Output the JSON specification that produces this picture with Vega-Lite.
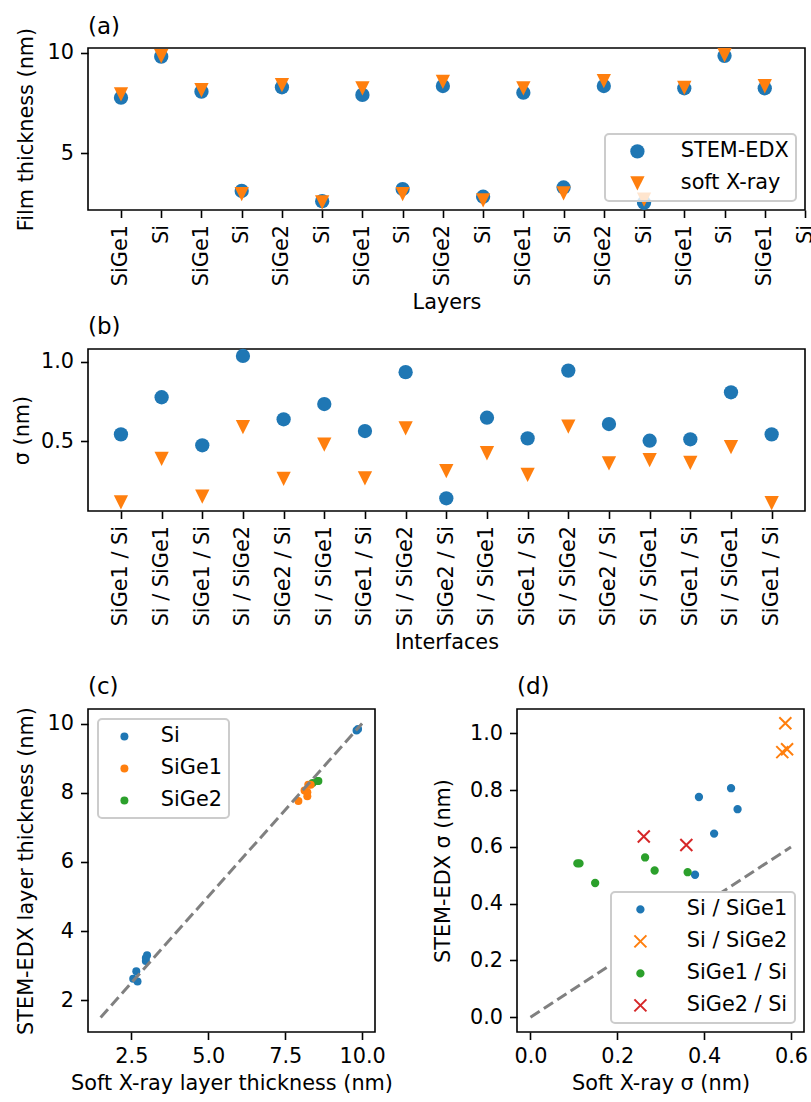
{
  "$schema": "https://vega.github.io/schema/vega-lite/v6.json",
  "background": "white",
  "padding": {"left": 10, "top": 15, "right": 5, "bottom": 5},
  "config": {
    "font": "DejaVu Sans",
    "view": {"stroke": "black", "strokeWidth": 1.6},
    "axis": {"grid": false, "domain": false, "tickColor": "black", "tickWidth": 1.6, "tickSize": 7.5, "labelPadding": 7, "labelFont": "DejaVu Sans", "labelFontSize": 20.8, "labelColor": "black", "titleFont": "DejaVu Sans", "titleFontSize": 20.8, "titleFontWeight": "normal", "titleColor": "black", "titlePadding": 8, "labelFlush": false, "labelOverlap": false},
    "legend": {"labelFont": "DejaVu Sans", "labelFontSize": 20.8, "labelColor": "black", "fillColor": "rgba(255,255,255,0.8)", "strokeColor": "#cccccc", "strokeWidth": 2, "cornerRadius": 4, "padding": 7, "rowPadding": 10, "labelLimit": 300}
  },
  "datasets": {
    "layers": [
      {"i": 0, "material": "SiGe1", "STEM-EDX": 7.76, "soft X-ray": 7.93},
      {"i": 1, "material": "Si", "STEM-EDX": 9.80, "soft X-ray": 9.82},
      {"i": 2, "material": "SiGe1", "STEM-EDX": 8.06, "soft X-ray": 8.13},
      {"i": 3, "material": "Si", "STEM-EDX": 3.13, "soft X-ray": 2.97},
      {"i": 4, "material": "SiGe2", "STEM-EDX": 8.28, "soft X-ray": 8.39},
      {"i": 5, "material": "Si", "STEM-EDX": 2.62, "soft X-ray": 2.56},
      {"i": 6, "material": "SiGe1", "STEM-EDX": 7.90, "soft X-ray": 8.22},
      {"i": 7, "material": "Si", "STEM-EDX": 3.22, "soft X-ray": 2.97},
      {"i": 8, "material": "SiGe2", "STEM-EDX": 8.34, "soft X-ray": 8.55},
      {"i": 9, "material": "Si", "STEM-EDX": 2.84, "soft X-ray": 2.66},
      {"i": 10, "material": "SiGe1", "STEM-EDX": 8.01, "soft X-ray": 8.22},
      {"i": 11, "material": "Si", "STEM-EDX": 3.30, "soft X-ray": 3.01},
      {"i": 12, "material": "SiGe2", "STEM-EDX": 8.34, "soft X-ray": 8.58},
      {"i": 13, "material": "Si", "STEM-EDX": 2.54, "soft X-ray": 2.70},
      {"i": 14, "material": "SiGe1", "STEM-EDX": 8.23, "soft X-ray": 8.25},
      {"i": 15, "material": "Si", "STEM-EDX": 9.84, "soft X-ray": 9.87},
      {"i": 16, "material": "SiGe1", "STEM-EDX": 8.23, "soft X-ray": 8.33}
    ],
    "ifaces": [
      {"j": 0, "iface": "SiGe1 / Si", "STEM-EDX": 0.542, "soft X-ray": 0.113},
      {"j": 1, "iface": "Si / SiGe1", "STEM-EDX": 0.776, "soft X-ray": 0.388},
      {"j": 2, "iface": "SiGe1 / Si", "STEM-EDX": 0.473, "soft X-ray": 0.149},
      {"j": 3, "iface": "Si / SiGe2", "STEM-EDX": 1.036, "soft X-ray": 0.587},
      {"j": 4, "iface": "SiGe2 / Si", "STEM-EDX": 0.637, "soft X-ray": 0.261},
      {"j": 5, "iface": "Si / SiGe1", "STEM-EDX": 0.733, "soft X-ray": 0.477},
      {"j": 6, "iface": "SiGe1 / Si", "STEM-EDX": 0.563, "soft X-ray": 0.264},
      {"j": 7, "iface": "Si / SiGe2", "STEM-EDX": 0.934, "soft X-ray": 0.580},
      {"j": 8, "iface": "SiGe2 / Si", "STEM-EDX": 0.139, "soft X-ray": 0.310},
      {"j": 9, "iface": "Si / SiGe1", "STEM-EDX": 0.647, "soft X-ray": 0.423},
      {"j": 10, "iface": "SiGe1 / Si", "STEM-EDX": 0.517, "soft X-ray": 0.286},
      {"j": 11, "iface": "Si / SiGe2", "STEM-EDX": 0.944, "soft X-ray": 0.591},
      {"j": 12, "iface": "SiGe2 / Si", "STEM-EDX": 0.607, "soft X-ray": 0.359},
      {"j": 13, "iface": "Si / SiGe1", "STEM-EDX": 0.502, "soft X-ray": 0.379},
      {"j": 14, "iface": "SiGe1 / Si", "STEM-EDX": 0.511, "soft X-ray": 0.362},
      {"j": 15, "iface": "Si / SiGe1", "STEM-EDX": 0.807, "soft X-ray": 0.462},
      {"j": 16, "iface": "SiGe1 / Si", "STEM-EDX": 0.542, "soft X-ray": 0.108}
    ],
    "diagC": [{"soft X-ray": 1.5, "STEM-EDX": 1.5}, {"soft X-ray": 10, "STEM-EDX": 10}],
    "diagD": [{"soft X-ray": 0, "STEM-EDX": 0}, {"soft X-ray": 0.6, "STEM-EDX": 0.6}]
  },
  "columns": 1,
  "spacing": 21,
  "align": "none",
  "resolve": {
    "scale": {"color": "independent", "shape": "independent", "fill": "independent", "stroke": "independent", "x": "independent", "y": "independent"},
    "legend": {"color": "independent", "shape": "independent", "fill": "independent", "stroke": "independent"}
  },
  "concat": [
    {
      "bounds": "flush",
      "spacing": 139,
      "resolve": {
        "scale": {"color": "independent", "shape": "independent", "x": "independent", "y": "independent"},
        "legend": {"color": "independent", "shape": "independent"}
      },
      "vconcat": [
        {
          "title": {"text": "(a)", "fontSize": 23, "fontWeight": "normal", "font": "DejaVu Sans", "color": "black", "anchor": "start", "frame": "group", "baseline": "alphabetic", "offset": -7.5, "dy": 22},
          "width": 717,
          "height": 162,
          "data": {"name": "layers"},
          "transform": [{"fold": ["STEM-EDX", "soft X-ray"], "as": ["method", "value"]}],
          "mark": {"type": "point", "filled": true, "opacity": 1, "size": 204},
          "encoding": {
            "x": {"field": "i", "type": "quantitative", "scale": {"domain": [-0.82, 17], "nice": false, "zero": false},
              "axis": {"title": "Layers", "values": [0,1,2,3,4,5,6,7,8,9,10,11,12,13,14,15,16,17], "labelAngle": -90, "titlePadding": 7,
                "labelExpr": "['SiGe1','Si','SiGe1','Si','SiGe2','Si','SiGe1','Si','SiGe2','Si','SiGe1','Si','SiGe2','Si','SiGe1','Si','SiGe1','Si'][datum.value]"}},
            "y": {"field": "value", "type": "quantitative", "scale": {"domain": [2.18, 10.23], "nice": false, "zero": false},
              "axis": {"title": "Film thickness (nm)", "values": [5, 10], "titlePadding": 4, "minExtent": 48, "maxExtent": 48}},
            "color": {"field": "method", "type": "nominal", "scale": {"domain": ["STEM-EDX", "soft X-ray"], "range": ["#1f77b4", "#ff7f0e"]},
              "legend": {"title": null, "orient": "bottom-right", "offset": 9, "symbolSize": 204, "symbolOffset": 15, "labelOffset": 33}},
            "shape": {"field": "method", "type": "nominal", "scale": {"domain": ["STEM-EDX", "soft X-ray"], "range": ["circle", "M-1,-1L1,-1L0,1Z"]},
              "legend": {"title": null, "orient": "bottom-right", "offset": 9, "symbolSize": 204, "symbolOffset": 15, "labelOffset": 33}}
          }
        },
        {
          "title": {"text": "(b)", "fontSize": 23, "fontWeight": "normal", "font": "DejaVu Sans", "color": "black", "anchor": "start", "frame": "group", "baseline": "alphabetic", "offset": 14, "dy": 22},
          "width": 717,
          "height": 162,
          "data": {"name": "ifaces"},
          "transform": [{"fold": ["STEM-EDX", "soft X-ray"], "as": ["method", "value"]}],
          "mark": {"type": "point", "filled": true, "opacity": 1, "size": 204},
          "encoding": {
            "x": {"field": "j", "type": "quantitative", "scale": {"domain": [-0.81, 16.82], "nice": false, "zero": false},
              "axis": {"title": "Interfaces", "values": [0,1,2,3,4,5,6,7,8,9,10,11,12,13,14,15,16], "labelAngle": -90, "titlePadding": 7,
                "labelExpr": "['SiGe1 / Si','Si / SiGe1','SiGe1 / Si','Si / SiGe2','SiGe2 / Si','Si / SiGe1','SiGe1 / Si','Si / SiGe2','SiGe2 / Si','Si / SiGe1','SiGe1 / Si','Si / SiGe2','SiGe2 / Si','Si / SiGe1','SiGe1 / Si','Si / SiGe1','SiGe1 / Si'][datum.value]"}},
            "y": {"field": "value", "type": "quantitative", "scale": {"domain": [0.059, 1.08], "nice": false, "zero": false},
              "axis": {"title": "σ (nm)", "values": [0.5, 1.0], "format": ".1f", "titlePadding": 8, "minExtent": 48, "maxExtent": 48}},
            "color": {"field": "method", "type": "nominal", "scale": {"domain": ["STEM-EDX", "soft X-ray"], "range": ["#1f77b4", "#ff7f0e"]}, "legend": null},
            "shape": {"field": "method", "type": "nominal", "scale": {"domain": ["STEM-EDX", "soft X-ray"], "range": ["circle", "M-1,-1L1,-1L0,1Z"]}, "legend": null}
          }
        }
      ]
    },
    {
      "bounds": "flush",
      "spacing": 142,
      "resolve": {
        "scale": {"color": "independent", "shape": "independent", "fill": "independent", "stroke": "independent", "x": "independent", "y": "independent"},
        "legend": {"color": "independent", "shape": "independent", "fill": "independent", "stroke": "independent"}
      },
      "hconcat": [
        {
          "title": {"text": "(c)", "fontSize": 23, "fontWeight": "normal", "font": "DejaVu Sans", "color": "black", "anchor": "start", "frame": "group", "baseline": "alphabetic", "offset": 11.6, "dy": 22},
          "width": 287,
          "height": 323,
          "encoding": {
            "x": {"field": "soft X-ray", "type": "quantitative", "scale": {"domain": [1.09, 10.42], "nice": false, "zero": false},
              "axis": {"title": "Soft X-ray layer thickness (nm)", "values": [2.5, 5, 7.5, 10], "format": ".1f", "titlePadding": 7}},
            "y": {"field": "STEM-EDX", "type": "quantitative", "scale": {"domain": [1.08, 10.42], "nice": false, "zero": false},
              "axis": {"title": "STEM-EDX layer thickness (nm)", "values": [2, 4, 6, 8, 10], "titlePadding": 6, "minExtent": 46, "maxExtent": 46}}
          },
          "layer": [
            {
              "data": {"name": "layers"},
              "mark": {"type": "point", "filled": true, "opacity": 1, "size": 64},
              "encoding": {
                "color": {"field": "material", "type": "nominal", "scale": {"domain": ["Si", "SiGe1", "SiGe2"], "range": ["#1f77b4", "#ff7f0e", "#2ca02c"]},
                  "legend": {"title": null, "orient": "top-left", "offset": 10, "symbolSize": 64, "symbolOffset": 9, "labelOffset": 26}}
              }
            },
            {
              "data": {"name": "diagC"},
              "mark": {"type": "line", "color": "#808080", "strokeWidth": 3, "strokeDash": [11, 5]},
              "encoding": {}
            }
          ]
        },
        {
          "title": {"text": "(d)", "fontSize": 23, "fontWeight": "normal", "font": "DejaVu Sans", "color": "black", "anchor": "start", "frame": "group", "baseline": "alphabetic", "offset": 14, "dy": 22},
          "width": 287,
          "height": 323,
          "encoding": {
            "x": {"field": "soft X-ray", "type": "quantitative", "scale": {"domain": [-0.031, 0.63], "nice": false, "zero": false},
              "axis": {"title": "Soft X-ray σ (nm)", "values": [0, 0.2, 0.4, 0.6], "format": ".1f", "titlePadding": 7}},
            "y": {"field": "STEM-EDX", "type": "quantitative", "scale": {"domain": [-0.052, 1.086], "nice": false, "zero": false},
              "axis": {"title": "STEM-EDX σ (nm)", "values": [0, 0.2, 0.4, 0.6, 0.8, 1.0], "format": ".1f", "titlePadding": 16, "minExtent": 48, "maxExtent": 48}}
          },
          "layer": [
            {
              "data": {"name": "ifaces"},
              "transform": [{"filter": "datum.j != 8"}],
              "mark": {"type": "point", "filled": true, "opacity": 1, "size": 40, "strokeWidth": 2},
              "encoding": {
                "fill": {"field": "iface", "type": "nominal", "scale": {"domain": ["Si / SiGe1", "Si / SiGe2", "SiGe1 / Si", "SiGe2 / Si"], "range": ["#1f77b4", "#ff7f0e", "#2ca02c", "#d62728"]},
                  "legend": {"title": null, "orient": "bottom-right", "offset": 9, "fillColor": "white", "symbolSize": 40, "symbolStrokeWidth": 2, "symbolOffset": 12, "labelOffset": 36}},
                "stroke": {"field": "iface", "type": "nominal", "scale": {"domain": ["Si / SiGe1", "Si / SiGe2", "SiGe1 / Si", "SiGe2 / Si"], "range": ["#1f77b4", "#ff7f0e", "#2ca02c", "#d62728"]},
                  "legend": {"title": null, "orient": "bottom-right", "offset": 9, "fillColor": "white", "symbolSize": 40, "symbolStrokeWidth": 2, "symbolOffset": 12, "labelOffset": 36}},
                "shape": {"field": "iface", "type": "nominal", "scale": {"domain": ["Si / SiGe1", "Si / SiGe2", "SiGe1 / Si", "SiGe2 / Si"], "range": ["circle", "M-1.9,-1.9L1.9,1.9M-1.9,1.9L1.9,-1.9", "circle", "M-1.9,-1.9L1.9,1.9M-1.9,1.9L1.9,-1.9"]},
                  "legend": {"title": null, "orient": "bottom-right", "offset": 9, "fillColor": "white", "symbolSize": 40, "symbolStrokeWidth": 2, "symbolOffset": 12, "labelOffset": 36}}
              }
            },
            {
              "data": {"name": "diagD"},
              "mark": {"type": "line", "color": "#808080", "strokeWidth": 3, "strokeDash": [11, 5]},
              "encoding": {}
            }
          ]
        }
      ]
    }
  ]
}
